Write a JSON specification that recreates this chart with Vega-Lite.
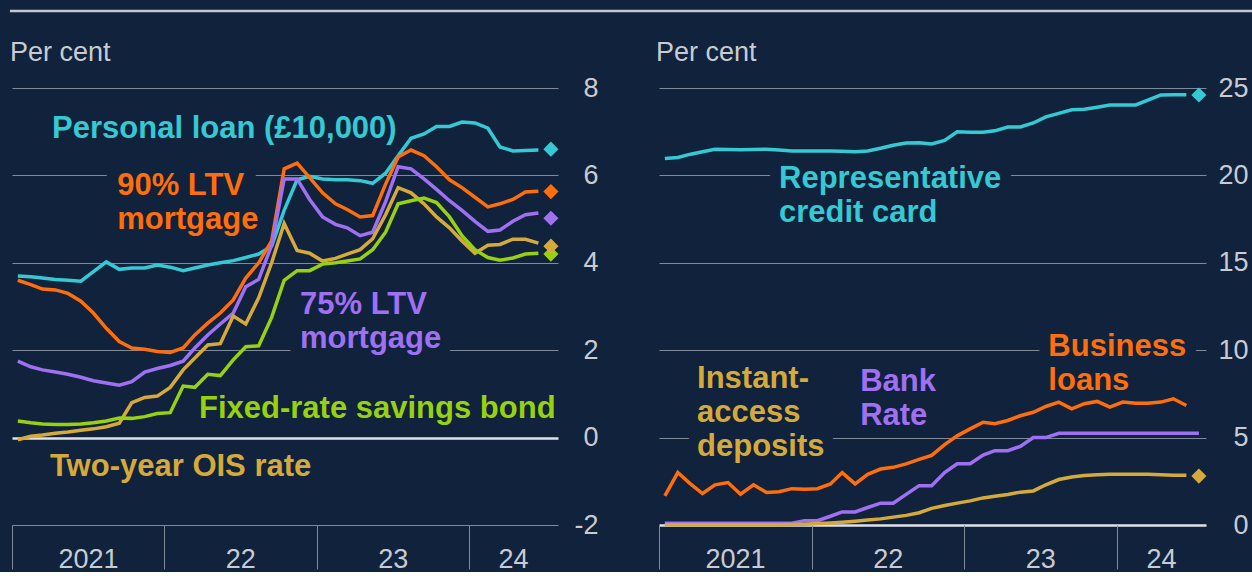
{
  "$schema": "https://vega.github.io/schema/vega-lite/v6.json",
  "background": "#10223c",
  "padding": {"left": 8, "top": 9, "right": 0, "bottom": 0},
  "bounds": "flush",
  "spacing": 101,
  "config": {
    "font": "Liberation Sans",
    "view": {"stroke": null},
    "axis": {"labelFont": "Liberation Sans", "labelColor": "#c8ccd2", "labelFontSize": 27}
  },
  "datasets": {
    "left": [
      {"date": "2021-01-15", "personal": 3.70, "ltv90": 3.60, "ltv75": 1.75, "ois": -0.05, "bond": 0.38},
      {"date": "2021-02-15", "personal": 3.68, "ltv90": 3.50, "ltv75": 1.62, "ois": 0.03, "bond": 0.34},
      {"date": "2021-03-15", "personal": 3.65, "ltv90": 3.40, "ltv75": 1.55, "ois": 0.06, "bond": 0.31},
      {"date": "2021-04-15", "personal": 3.62, "ltv90": 3.38, "ltv75": 1.50, "ois": 0.10, "bond": 0.30},
      {"date": "2021-05-15", "personal": 3.60, "ltv90": 3.30, "ltv75": 1.45, "ois": 0.13, "bond": 0.30},
      {"date": "2021-06-15", "personal": 3.58, "ltv90": 3.12, "ltv75": 1.38, "ois": 0.17, "bond": 0.31},
      {"date": "2021-07-15", "personal": 3.80, "ltv90": 2.85, "ltv75": 1.30, "ois": 0.20, "bond": 0.34},
      {"date": "2021-08-15", "personal": 4.02, "ltv90": 2.50, "ltv75": 1.25, "ois": 0.25, "bond": 0.38},
      {"date": "2021-09-15", "personal": 3.85, "ltv90": 2.20, "ltv75": 1.20, "ois": 0.33, "bond": 0.45},
      {"date": "2021-10-15", "personal": 3.88, "ltv90": 2.05, "ltv75": 1.28, "ois": 0.80, "bond": 0.44},
      {"date": "2021-11-15", "personal": 3.88, "ltv90": 2.02, "ltv75": 1.50, "ois": 0.92, "bond": 0.48},
      {"date": "2021-12-15", "personal": 3.95, "ltv90": 1.97, "ltv75": 1.58, "ois": 0.95, "bond": 0.55},
      {"date": "2022-01-15", "personal": 3.90, "ltv90": 1.95, "ltv75": 1.65, "ois": 1.15, "bond": 0.57},
      {"date": "2022-02-15", "personal": 3.82, "ltv90": 2.05, "ltv75": 1.75, "ois": 1.55, "bond": 1.18},
      {"date": "2022-03-15", "personal": 3.88, "ltv90": 2.35, "ltv75": 2.05, "ois": 1.82, "bond": 1.15},
      {"date": "2022-04-15", "personal": 3.95, "ltv90": 2.62, "ltv75": 2.35, "ois": 2.12, "bond": 1.45},
      {"date": "2022-05-15", "personal": 4.00, "ltv90": 2.85, "ltv75": 2.60, "ois": 2.15, "bond": 1.42},
      {"date": "2022-06-15", "personal": 4.05, "ltv90": 3.15, "ltv75": 2.85, "ois": 2.78, "bond": 1.78},
      {"date": "2022-07-15", "personal": 4.12, "ltv90": 3.65, "ltv75": 3.45, "ois": 2.60, "bond": 2.08},
      {"date": "2022-08-15", "personal": 4.20, "ltv90": 4.00, "ltv75": 3.62, "ois": 3.20, "bond": 2.10},
      {"date": "2022-09-15", "personal": 4.38, "ltv90": 4.50, "ltv75": 4.40, "ois": 4.00, "bond": 2.75},
      {"date": "2022-10-15", "personal": 5.20, "ltv90": 6.15, "ltv75": 5.92, "ois": 4.90, "bond": 3.60},
      {"date": "2022-11-15", "personal": 5.90, "ltv90": 6.28, "ltv75": 5.92, "ois": 4.28, "bond": 3.82},
      {"date": "2022-12-15", "personal": 5.98, "ltv90": 5.95, "ltv75": 5.45, "ois": 4.22, "bond": 3.82},
      {"date": "2023-01-15", "personal": 5.92, "ltv90": 5.60, "ltv75": 5.05, "ois": 4.04, "bond": 3.97},
      {"date": "2023-02-15", "personal": 5.90, "ltv90": 5.35, "ltv75": 4.88, "ois": 4.10, "bond": 4.00},
      {"date": "2023-03-15", "personal": 5.90, "ltv90": 5.22, "ltv75": 4.80, "ois": 4.20, "bond": 4.04},
      {"date": "2023-04-15", "personal": 5.88, "ltv90": 5.05, "ltv75": 4.62, "ois": 4.30, "bond": 4.09},
      {"date": "2023-05-15", "personal": 5.82, "ltv90": 5.08, "ltv75": 4.70, "ois": 4.55, "bond": 4.30},
      {"date": "2023-06-15", "personal": 6.05, "ltv90": 5.80, "ltv75": 5.40, "ois": 5.10, "bond": 4.70},
      {"date": "2023-07-15", "personal": 6.45, "ltv90": 6.42, "ltv75": 6.20, "ois": 5.72, "bond": 5.35},
      {"date": "2023-08-15", "personal": 6.85, "ltv90": 6.58, "ltv75": 6.15, "ois": 5.60, "bond": 5.42},
      {"date": "2023-09-15", "personal": 6.95, "ltv90": 6.45, "ltv75": 5.92, "ois": 5.35, "bond": 5.48},
      {"date": "2023-10-15", "personal": 7.12, "ltv90": 6.20, "ltv75": 5.68, "ois": 5.05, "bond": 5.38},
      {"date": "2023-11-15", "personal": 7.12, "ltv90": 5.90, "ltv75": 5.42, "ois": 4.80, "bond": 5.05},
      {"date": "2023-12-15", "personal": 7.22, "ltv90": 5.72, "ltv75": 5.20, "ois": 4.50, "bond": 4.62},
      {"date": "2024-01-15", "personal": 7.20, "ltv90": 5.50, "ltv75": 4.95, "ois": 4.22, "bond": 4.30},
      {"date": "2024-02-15", "personal": 7.08, "ltv90": 5.28, "ltv75": 4.72, "ois": 4.40, "bond": 4.12},
      {"date": "2024-03-15", "personal": 6.65, "ltv90": 5.35, "ltv75": 4.75, "ois": 4.42, "bond": 4.06},
      {"date": "2024-04-15", "personal": 6.56, "ltv90": 5.45, "ltv75": 4.95, "ois": 4.54, "bond": 4.11},
      {"date": "2024-05-15", "personal": 6.57, "ltv90": 5.62, "ltv75": 5.10, "ois": 4.54, "bond": 4.20},
      {"date": "2024-06-15", "personal": 6.58, "ltv90": 5.64, "ltv75": 5.14, "ois": 4.45, "bond": 4.22}
    ],
    "leftEnd": [
      {"date": "2024-07-15", "series": "bond", "value": 4.20},
      {"date": "2024-07-15", "series": "ois", "value": 4.38},
      {"date": "2024-07-15", "series": "ltv75", "value": 5.02},
      {"date": "2024-07-15", "series": "ltv90", "value": 5.63},
      {"date": "2024-07-15", "series": "personal", "value": 6.60}
    ],
    "leftLabels": [
      {"date": "2021-04-07", "value": 7.07, "series": "personal", "text": "Personal loan (£10,000)"},
      {"date": "2021-09-10", "value": 5.76, "series": "ltv90", "text": "90% LTV\nmortgage"},
      {"date": "2022-11-22", "value": 3.04, "series": "ltv75", "text": "75% LTV\nmortgage"},
      {"date": "2022-03-25", "value": 0.66, "series": "bond", "text": "Fixed-rate savings bond"},
      {"date": "2021-04-02", "value": -0.67, "series": "ois", "text": "Two-year OIS rate"}
    ],
    "right": [
      {"date": "2021-01-15", "card": 20.97, "business": 1.67, "bank": 0.10, "instant": 0.02},
      {"date": "2021-02-15", "card": 21.03, "business": 3.00, "bank": 0.10, "instant": 0.02},
      {"date": "2021-03-15", "card": 21.20, "business": 2.40, "bank": 0.10, "instant": 0.02},
      {"date": "2021-04-15", "card": 21.35, "business": 1.80, "bank": 0.10, "instant": 0.02},
      {"date": "2021-05-15", "card": 21.50, "business": 2.30, "bank": 0.10, "instant": 0.02},
      {"date": "2021-06-15", "card": 21.48, "business": 2.43, "bank": 0.10, "instant": 0.02},
      {"date": "2021-07-15", "card": 21.47, "business": 1.76, "bank": 0.10, "instant": 0.02},
      {"date": "2021-08-15", "card": 21.48, "business": 2.30, "bank": 0.10, "instant": 0.02},
      {"date": "2021-09-15", "card": 21.50, "business": 1.86, "bank": 0.10, "instant": 0.02},
      {"date": "2021-10-15", "card": 21.45, "business": 1.90, "bank": 0.10, "instant": 0.02},
      {"date": "2021-11-15", "card": 21.40, "business": 2.08, "bank": 0.10, "instant": 0.03},
      {"date": "2021-12-15", "card": 21.40, "business": 2.05, "bank": 0.25, "instant": 0.05},
      {"date": "2022-01-15", "card": 21.40, "business": 2.08, "bank": 0.25, "instant": 0.08},
      {"date": "2022-02-15", "card": 21.40, "business": 2.35, "bank": 0.50, "instant": 0.12},
      {"date": "2022-03-15", "card": 21.38, "business": 3.00, "bank": 0.75, "instant": 0.16},
      {"date": "2022-04-15", "card": 21.36, "business": 2.35, "bank": 0.75, "instant": 0.22},
      {"date": "2022-05-15", "card": 21.40, "business": 2.90, "bank": 1.00, "instant": 0.28},
      {"date": "2022-06-15", "card": 21.55, "business": 3.20, "bank": 1.25, "instant": 0.35},
      {"date": "2022-07-15", "card": 21.72, "business": 3.30, "bank": 1.25, "instant": 0.45},
      {"date": "2022-08-15", "card": 21.85, "business": 3.50, "bank": 1.75, "instant": 0.55},
      {"date": "2022-09-15", "card": 21.87, "business": 3.75, "bank": 2.25, "instant": 0.70},
      {"date": "2022-10-15", "card": 21.80, "business": 3.98, "bank": 2.25, "instant": 0.95},
      {"date": "2022-11-15", "card": 22.00, "business": 4.60, "bank": 3.00, "instant": 1.12},
      {"date": "2022-12-15", "card": 22.50, "business": 5.10, "bank": 3.50, "instant": 1.25},
      {"date": "2023-01-15", "card": 22.47, "business": 5.50, "bank": 3.50, "instant": 1.38},
      {"date": "2023-02-15", "card": 22.47, "business": 5.88, "bank": 4.00, "instant": 1.55},
      {"date": "2023-03-15", "card": 22.55, "business": 5.80, "bank": 4.25, "instant": 1.65},
      {"date": "2023-04-15", "card": 22.77, "business": 5.98, "bank": 4.25, "instant": 1.75},
      {"date": "2023-05-15", "card": 22.77, "business": 6.25, "bank": 4.50, "instant": 1.88},
      {"date": "2023-06-15", "card": 23.00, "business": 6.45, "bank": 5.00, "instant": 1.95},
      {"date": "2023-07-15", "card": 23.35, "business": 6.78, "bank": 5.00, "instant": 2.30},
      {"date": "2023-08-15", "card": 23.55, "business": 7.03, "bank": 5.25, "instant": 2.60},
      {"date": "2023-09-15", "card": 23.75, "business": 6.65, "bank": 5.25, "instant": 2.75},
      {"date": "2023-10-15", "card": 23.78, "business": 6.94, "bank": 5.25, "instant": 2.83},
      {"date": "2023-11-15", "card": 23.90, "business": 7.07, "bank": 5.25, "instant": 2.88},
      {"date": "2023-12-15", "card": 24.03, "business": 6.74, "bank": 5.25, "instant": 2.90},
      {"date": "2024-01-15", "card": 24.03, "business": 7.03, "bank": 5.25, "instant": 2.90},
      {"date": "2024-02-15", "card": 24.03, "business": 6.97, "bank": 5.25, "instant": 2.90},
      {"date": "2024-03-15", "card": 24.30, "business": 6.97, "bank": 5.25, "instant": 2.90},
      {"date": "2024-04-15", "card": 24.60, "business": 7.03, "bank": 5.25, "instant": 2.88},
      {"date": "2024-05-15", "card": 24.61, "business": 7.22, "bank": 5.25, "instant": 2.85},
      {"date": "2024-06-15", "card": 24.61, "business": 6.84, "bank": 5.25, "instant": 2.85},
      {"date": "2024-07-15", "card": null, "business": null, "bank": 5.25, "instant": null}
    ],
    "rightEnd": [
      {"date": "2024-07-15", "series": "card", "value": 24.6},
      {"date": "2024-07-15", "series": "instant", "value": 2.8}
    ],
    "rightLabels": [
      {"date": "2021-10-15", "value": 19.81, "series": "card", "text": "Representative\ncredit card"},
      {"date": "2021-04-02", "value": 8.37, "series": "instant", "text": "Instant-\naccess\ndeposits"},
      {"date": "2022-04-27", "value": 8.2, "series": "bank", "text": "Bank\nRate"},
      {"date": "2023-07-21", "value": 10.2, "series": "business", "text": "Business\nloans"}
    ]
  },
  "hconcat": [
    {
      "width": 546,
      "height": 437,
      "layer": [
        {
          "data": {"name": "leftLabels"},
          "mark": {"type": "text", "align": "left", "baseline": "middle", "fontSize": 31, "fontWeight": "bold", "lineBreak": "\n", "lineHeight": 34, "font": "Liberation Sans", "color": "#10223c", "stroke": "#10223c", "strokeWidth": 24, "strokeJoin": "round"},
          "encoding": {
            "x": {
              "field": "date", "type": "temporal",
              "scale": {"type": "utc", "domain": [{"year": 2021, "month": 1, "date": 1, "utc": true}, {"year": 2024, "month": 8, "date": 1, "utc": true}]},
              "axis": {
                "title": null, "domain": false, "grid": false,
                "values": [{"year": 2021, "month": 1, "date": 1, "utc": true}, {"year": 2022, "month": 1, "date": 1, "utc": true}, {"year": 2023, "month": 1, "date": 1, "utc": true}, {"year": 2024, "month": 1, "date": 1, "utc": true}],
                "labelExpr": "utcyear(datum.value) == 2021 ? '2021' : utcFormat(datum.value, '%y')",
                "tickSize": 44, "tickColor": "#7f8a9a", "tickWidth": 1,
                "labelPadding": -23, "labelAlign": "center", "labelFlush": false, "labelOverlap": false, "labelBound": false,
                "labelOffset": {"condition": {"test": "utcyear(datum.value) == 2024", "value": 44}, "value": 76}
              }
            },
            "y": {
              "field": "value", "type": "quantitative",
              "scale": {"domain": [-2, 8], "nice": false, "zero": false},
              "axis": {
                "orient": "right", "title": null, "values": [-2, 0, 2, 4, 6, 8],
                "labelExpr": "datum.value < 0 ? '-' + abs(datum.value) : '' + datum.value",
                "grid": true,
                "gridColor": {"condition": {"test": "datum.value === 0", "value": "#dfe3e8"}, "value": "#7f8a9a"},
                "gridWidth": {"condition": {"test": "datum.value === 0", "value": 2.5}, "value": 1.2},
                "ticks": false, "domain": false, "labelAlign": "right", "labelPadding": 40, "labelBaseline": "middle"
              }
            },
            "text": {"field": "text"}
          }
        },
        {
          "data": {"name": "left"},
          "transform": [{"fold": ["personal", "ltv90", "ltv75", "ois", "bond"], "as": ["series", "value"]}],
          "mark": {"type": "line", "strokeWidth": 3.5},
          "encoding": {
            "x": {"field": "date", "type": "temporal"},
            "y": {"field": "value", "type": "quantitative"},
            "color": {
              "field": "series", "type": "nominal", "legend": null,
              "scale": {
                "domain": ["personal", "ltv90", "ltv75", "ois", "bond", "card", "business", "bank", "instant"],
                "range": ["#35c9d3", "#ff6e0c", "#a070f2", "#d6aa3a", "#97d10f", "#35c9d3", "#ff6e0c", "#a070f2", "#d6aa3a"]
              }
            }
          }
        },
        {
          "data": {"values": [{}]},
          "mark": {"type": "rule", "color": "#c3c9d1", "strokeWidth": 2.5, "clip": false},
          "encoding": {
            "x": {"datum": {"year": 2020, "month": 12, "date": 27, "utc": true}, "type": "temporal"},
            "x2": {"datum": {"year": 2029, "month": 6, "date": 1, "utc": true}},
            "y": {"datum": 9.762, "type": "quantitative"}
          }
        },
        {
          "data": {"values": [{}]},
          "mark": {"type": "text", "text": "Per cent", "align": "left", "baseline": "middle", "fontSize": 27, "color": "#c8ccd2", "font": "Liberation Sans", "clip": false},
          "encoding": {
            "x": {"datum": {"year": 2020, "month": 12, "date": 27, "utc": true}, "type": "temporal"},
            "y": {"datum": 8.81, "type": "quantitative"}
          }
        },
        {
          "data": {"name": "leftEnd"},
          "mark": {"type": "point", "shape": "diamond", "filled": true, "size": 230, "opacity": 1},
          "encoding": {
            "x": {"field": "date", "type": "temporal"},
            "y": {"field": "value", "type": "quantitative"},
            "color": {"field": "series", "type": "nominal", "legend": null}
          }
        },
        {
          "data": {"name": "leftLabels"},
          "mark": {"type": "text", "align": "left", "baseline": "middle", "fontSize": 31, "fontWeight": "bold", "lineBreak": "\n", "lineHeight": 34, "font": "Liberation Sans"},
          "encoding": {
            "x": {"field": "date", "type": "temporal"},
            "y": {"field": "value", "type": "quantitative"},
            "text": {"field": "text"},
            "color": {"field": "series", "type": "nominal", "legend": null}
          }
        }
      ]
    },
    {
      "width": 547,
      "height": 437,
      "layer": [
        {
          "data": {"name": "rightLabels"},
          "mark": {"type": "text", "align": "left", "baseline": "middle", "fontSize": 31, "fontWeight": "bold", "lineBreak": "\n", "lineHeight": 34, "font": "Liberation Sans", "color": "#10223c", "stroke": "#10223c", "strokeWidth": 22, "strokeJoin": "round"},
          "encoding": {
            "x": {
              "field": "date", "type": "temporal",
              "scale": {"type": "utc", "domain": [{"year": 2021, "month": 1, "date": 1, "utc": true}, {"year": 2024, "month": 8, "date": 1, "utc": true}]},
              "axis": {
                "title": null, "domain": false, "grid": false,
                "values": [{"year": 2021, "month": 1, "date": 1, "utc": true}, {"year": 2022, "month": 1, "date": 1, "utc": true}, {"year": 2023, "month": 1, "date": 1, "utc": true}, {"year": 2024, "month": 1, "date": 1, "utc": true}],
                "labelExpr": "utcyear(datum.value) == 2021 ? '2021' : utcFormat(datum.value, '%y')",
                "tickSize": 44, "tickColor": "#7f8a9a", "tickWidth": 1,
                "labelPadding": -23, "labelAlign": "center", "labelFlush": false, "labelOverlap": false, "labelBound": false,
                "labelOffset": {"condition": {"test": "utcyear(datum.value) == 2024", "value": 44}, "value": 76}
              }
            },
            "y": {
              "field": "value", "type": "quantitative",
              "scale": {"domain": [0, 25], "nice": false, "zero": false},
              "axis": {
                "orient": "right", "title": null, "values": [0, 5, 10, 15, 20, 25],
                "grid": true,
                "gridColor": {"condition": {"test": "datum.value === 0", "value": "#dfe3e8"}, "value": "#7f8a9a"},
                "gridWidth": {"condition": {"test": "datum.value === 0", "value": 2.5}, "value": 1.2},
                "ticks": false, "domain": false, "labelAlign": "right", "labelPadding": 42, "labelBaseline": "middle"
              }
            },
            "text": {"field": "text"}
          }
        },
        {
          "data": {"name": "right"},
          "transform": [{"fold": ["card", "business", "bank", "instant"], "as": ["series", "value"]}],
          "mark": {"type": "line", "strokeWidth": 3.5},
          "encoding": {
            "x": {"field": "date", "type": "temporal"},
            "y": {"field": "value", "type": "quantitative"},
            "color": {
              "field": "series", "type": "nominal", "legend": null,
              "scale": {
                "domain": ["personal", "ltv90", "ltv75", "ois", "bond", "card", "business", "bank", "instant"],
                "range": ["#35c9d3", "#ff6e0c", "#a070f2", "#d6aa3a", "#97d10f", "#35c9d3", "#ff6e0c", "#a070f2", "#d6aa3a"]
              }
            }
          }
        },
        {
          "data": {"values": [{}]},
          "mark": {"type": "text", "text": "Per cent", "align": "left", "baseline": "middle", "fontSize": 27, "color": "#c8ccd2", "font": "Liberation Sans", "clip": false},
          "encoding": {
            "x": {"datum": {"year": 2020, "month": 12, "date": 25, "utc": true}, "type": "temporal"},
            "y": {"datum": 27.02, "type": "quantitative"}
          }
        },
        {
          "data": {"name": "rightEnd"},
          "mark": {"type": "point", "shape": "diamond", "filled": true, "size": 230, "opacity": 1},
          "encoding": {
            "x": {"field": "date", "type": "temporal"},
            "y": {"field": "value", "type": "quantitative"},
            "color": {"field": "series", "type": "nominal", "legend": null}
          }
        },
        {
          "data": {"name": "rightLabels"},
          "mark": {"type": "text", "align": "left", "baseline": "middle", "fontSize": 31, "fontWeight": "bold", "lineBreak": "\n", "lineHeight": 34, "font": "Liberation Sans"},
          "encoding": {
            "x": {"field": "date", "type": "temporal"},
            "y": {"field": "value", "type": "quantitative"},
            "text": {"field": "text"},
            "color": {"field": "series", "type": "nominal", "legend": null}
          }
        }
      ]
    }
  ]
}
